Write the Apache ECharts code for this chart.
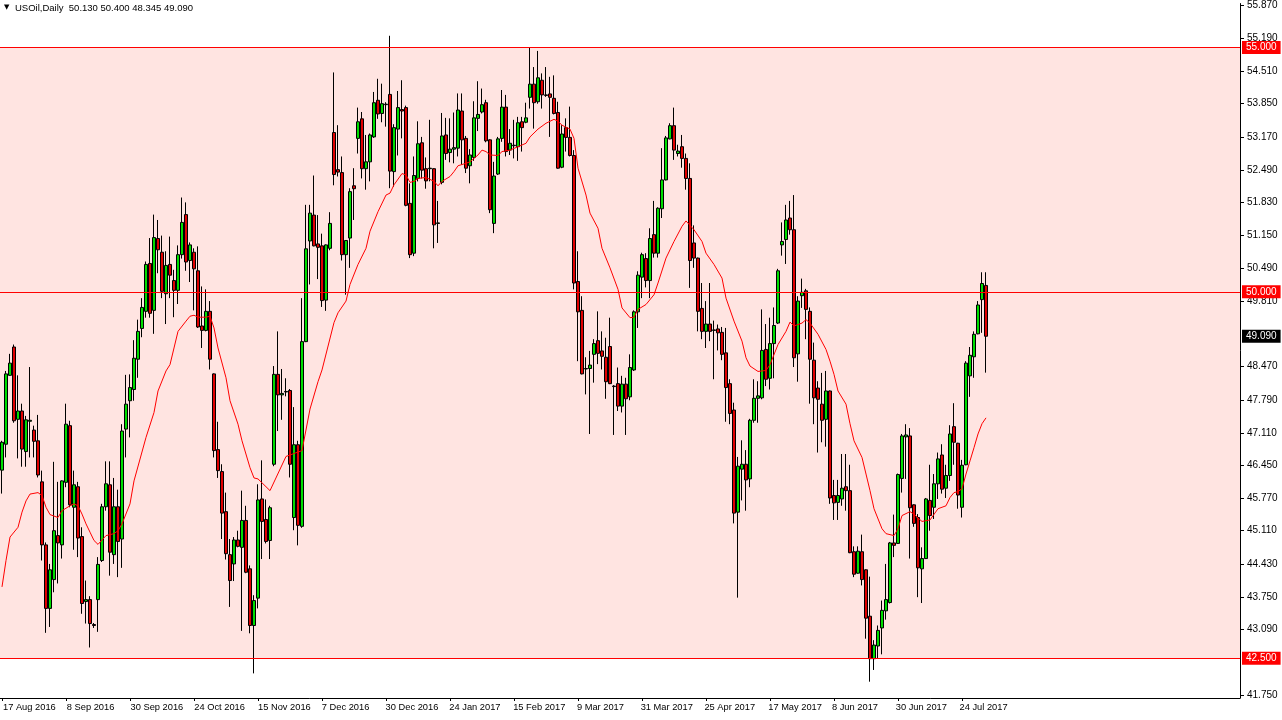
<!DOCTYPE html>
<html><head><meta charset="utf-8">
<script src="https://cdn.jsdelivr.net/npm/echarts@6/dist/echarts.min.js"></script>
<style>html,body{margin:0;padding:0;background:#fff}#c{width:1282px;height:720px}</style>
</head><body><div id="c"></div>
<script>
const symbolName = 'USOil,Daily';
const opens = [46.35,46.88,48.29,48.87,47.39,47.56,46.73,47.35,47.17,46.95,
46.11,44.82,43.52,44.11,45.01,44.82,46.10,47.26,45.59,46.01,
44.99,43.66,43.70,43.19,43.70,44.50,45.60,46.05,44.62,45.60,
44.94,47.19,47.77,48.00,48.62,49.25,49.60,50.58,49.62,51.09,
50.81,49.96,50.56,50.23,50.03,50.76,51.58,50.64,50.81,50.43,
49.30,49.21,49.60,48.32,46.77,46.32,45.50,44.62,44.43,44.92,
44.77,45.32,44.33,43.17,43.73,45.76,45.34,44.91,46.47,48.31,
47.89,47.95,47.98,45.38,46.87,45.20,48.98,51.04,51.57,50.98,
50.94,49.83,50.89,53.26,52.50,52.44,50.76,51.10,52.17,53.14,
53.54,52.52,52.66,53.17,53.92,53.65,53.84,54.04,52.46,53.33,
53.73,53.77,51.81,50.79,52.32,53.05,52.52,52.52,52.52,51.40,
52.24,53.21,52.85,52.92,52.94,53.70,53.14,52.58,52.75,53.55,
53.68,53.87,53.11,51.40,52.41,53.14,53.78,52.90,53.00,52.97,
53.48,53.47,53.98,54.25,53.89,54.33,54.03,54.05,53.96,53.67,
52.55,53.36,53.16,52.79,50.21,49.62,48.42,48.43,48.72,49.00,
48.79,48.66,48.88,48.07,48.12,47.66,48.11,47.85,48.40,49.59,
50.30,50.68,50.23,51.17,50.79,51.70,52.29,53.13,53.40,52.83,
52.97,52.73,52.32,51.00,50.69,49.66,49.19,49.34,49.21,49.24,
49.17,48.75,48.12,47.58,45.49,46.37,46.47,46.17,47.37,47.82,
47.83,48.82,48.23,48.94,49.36,50.96,51.07,51.51,51.27,48.73,
49.92,50.02,49.60,48.60,48.03,47.70,47.39,47.97,45.83,45.69,
45.76,46.01,45.93,44.68,44.24,44.68,44.31,43.36,42.49,42.75,
43.12,43.47,43.64,44.86,44.85,46.18,47.03,47.05,45.64,45.38,
44.33,44.54,45.73,45.59,46.07,46.66,45.98,46.24,47.24,46.90,
45.59,46.46,48.28,48.67,49.14,49.84,50.130];
const highs = [46.95,48.38,48.73,48.92,48.29,47.71,47.46,48.46,47.26,47.48,
46.34,44.87,44.43,46.52,46.11,46.14,47.71,47.36,46.34,46.11,
45.18,44.09,43.77,43.22,44.57,45.66,46.53,46.53,46.19,45.95,
47.29,48.30,48.31,49.01,49.43,49.87,50.62,51.10,51.58,51.47,
51.15,50.83,51.13,50.45,50.95,51.93,51.83,51.01,50.89,50.93,
50.11,50.05,49.81,48.33,47.34,46.47,45.89,44.94,44.98,45.11,
45.93,45.62,44.40,43.79,46.06,46.55,45.75,45.62,48.48,49.19,
48.42,48.23,48.01,47.64,46.95,49.87,51.78,51.78,52.38,51.57,
51.19,50.97,51.63,54.49,53.41,52.77,51.06,52.12,52.53,53.77,
53.68,53.21,53.24,54.09,54.36,54.26,53.88,55.24,53.43,54.11,
54.33,53.81,52.22,52.77,53.49,53.17,52.75,53.52,52.53,51.86,
53.66,53.56,53.55,53.67,54.06,54.06,53.19,52.92,53.90,54.31,
54.16,53.93,53.12,52.66,53.17,54.13,54.03,53.33,53.52,53.58,
53.58,53.87,55.01,54.60,54.93,54.47,54.60,54.40,54.43,53.89,
53.41,53.55,53.79,52.90,50.83,49.91,48.66,48.79,49.03,49.60,
49.19,49.06,49.47,48.09,48.45,48.28,48.24,48.72,49.62,50.42,
50.80,50.79,51.30,51.86,51.73,52.94,53.19,53.45,53.77,53.01,
53.21,52.83,52.63,51.36,50.70,50.18,49.81,50.18,49.41,49.33,
49.28,49.26,48.21,47.73,46.62,46.96,46.76,47.40,48.21,48.17,
49.64,49.34,49.47,49.68,50.47,51.42,51.78,51.86,51.98,49.91,
50.27,50.06,49.68,48.96,48.17,48.34,48.38,47.98,46.15,46.15,
46.68,46.68,46.46,44.79,44.79,45.03,44.32,44.17,42.87,43.17,
43.68,44.43,44.88,45.44,46.28,47.09,47.29,47.21,45.65,45.45,
44.77,45.78,46.46,46.27,46.71,46.88,46.46,47.27,47.72,46.91,
46.56,48.58,48.87,49.19,49.81,50.40,50.400];
const lows = [45.87,46.61,48.28,47.32,46.59,46.42,46.42,46.61,46.61,46.20,
44.50,43.02,43.14,43.85,44.03,44.54,46.00,45.59,44.72,44.57,
43.41,43.21,42.72,43.12,43.04,44.47,45.52,44.19,44.43,44.16,
44.35,46.61,47.02,47.77,48.24,49.07,49.47,49.47,49.14,50.38,
49.87,49.34,49.87,49.48,49.75,50.68,50.43,50.20,49.62,49.26,
48.85,49.19,48.41,46.61,46.19,44.94,44.52,43.55,44.08,44.77,
43.06,44.24,43.01,42.19,43.52,44.53,44.85,44.53,46.43,47.15,
47.38,47.86,46.20,45.12,44.81,45.17,48.97,50.15,50.93,50.26,
49.69,49.61,50.85,52.18,52.36,50.64,49.94,50.49,51.47,52.83,
52.32,52.09,52.26,53.15,53.54,53.47,53.38,52.12,52.15,52.79,
53.14,51.75,50.69,50.73,52.26,52.32,52.11,52.26,50.89,51.00,
52.20,52.70,52.65,52.63,52.77,52.60,52.43,52.22,52.68,53.29,
53.65,53.06,51.61,51.20,52.39,53.07,52.77,52.80,52.73,52.68,
52.87,53.45,53.75,53.34,53.85,53.75,53.99,53.17,53.63,52.52,
52.53,52.87,52.77,50.05,48.58,48.31,47.90,47.09,48.14,48.52,
48.41,47.81,48.11,47.07,47.56,47.53,47.07,47.78,48.38,49.26,
49.87,50.09,49.87,50.70,50.70,51.51,52.28,53.12,52.70,52.77,
52.54,52.09,50.08,50.49,49.19,49.03,48.85,48.99,48.21,48.80,
48.60,47.34,47.29,45.26,43.74,45.73,45.52,46.00,47.32,47.32,
47.80,48.07,48.00,48.23,49.34,50.74,50.57,51.17,48.46,48.16,
49.67,49.03,47.71,47.29,46.71,46.92,46.83,45.66,45.33,45.33,
45.62,45.52,44.65,44.16,44.23,43.99,42.90,42.02,42.26,42.49,
42.58,43.29,43.62,44.57,44.84,45.89,46.17,44.54,45.19,43.75,
43.63,44.53,45.11,45.35,45.76,45.87,45.78,46.13,46.46,45.56,
45.38,46.45,47.85,48.24,49.13,49.16,48.345];
const closes = [46.92,48.32,48.54,47.36,47.56,46.78,47.38,47.37,46.94,46.25,
44.82,43.52,44.31,45.11,44.86,46.13,47.29,45.64,46.05,44.96,
43.62,43.70,43.21,43.17,44.42,45.60,46.07,44.67,45.60,44.89,
47.15,47.70,48.04,48.64,49.19,49.68,50.56,49.56,51.11,50.86,
50.01,50.54,50.34,50.03,50.76,51.42,50.61,50.96,50.47,49.28,
49.21,49.60,48.62,46.75,46.34,45.47,44.64,44.09,44.92,44.79,
45.32,44.26,43.17,43.68,45.74,45.30,44.89,45.58,48.31,47.89,
47.92,47.96,46.47,46.87,45.22,48.98,50.88,51.61,50.94,50.91,
49.82,50.96,51.40,52.40,52.45,50.76,51.05,52.05,52.11,53.48,
52.52,52.66,53.21,53.87,53.64,53.85,53.83,52.47,53.36,53.77,
53.70,51.77,50.76,52.38,53.03,52.49,52.27,52.53,51.37,51.41,
53.19,52.83,52.92,52.95,53.72,53.11,52.53,52.80,53.56,53.63,
53.83,53.09,51.68,52.37,53.13,53.78,52.87,53.04,52.99,53.46,
53.36,53.56,54.25,53.87,54.38,54.03,54.02,53.98,53.65,52.53,
53.23,53.16,52.79,50.18,49.59,48.32,48.43,48.50,48.94,48.74,
48.68,48.16,48.12,48.06,47.66,48.11,47.81,48.45,49.59,50.34,
50.76,50.23,51.09,50.79,51.71,52.29,53.15,53.40,52.90,52.88,
52.73,52.32,50.64,50.69,49.60,49.19,49.34,49.19,49.22,49.16,
48.72,48.04,47.51,45.47,46.43,46.47,46.15,47.37,47.82,47.87,
48.80,48.21,48.94,49.31,50.43,51.03,51.47,51.27,48.65,49.81,
49.99,49.64,48.62,47.83,47.80,47.37,47.97,45.78,45.68,45.83,
45.98,45.93,44.66,44.22,44.69,44.11,43.32,42.49,42.77,43.07,
43.48,43.70,44.86,44.81,46.26,47.05,47.07,45.58,45.26,44.35,
44.54,45.76,45.42,46.07,46.58,45.96,46.24,47.09,46.92,45.84,
46.45,48.54,48.70,49.13,49.73,50.17,49.090];
// moving average: bar index -> value
const maBars = [0,1,2,4,5,6,7,9,10,11,12,14,15,17,18,19,20,21,22,23,24,26,28,29,30,32,33,36,38,39,41,42,43,44,46,47,48,49,51,52,53,54,56,57,59,60,62,63,64,67,71,75,77,79,80,83,84,86,87,89,91,92,94,96,97,98,100,101,102,103,104,106,108,109,110,112,113,114,116,117,119,120,121,122,124,125,127,129,131,132,134,136,138,139,140,142,143,144,146,147,149,150,152,154,155,157,158,159,161,163,164,166,168,170,171,173,175,176,178,180,181,183,185,186,187,189,191,192,194,196,197,198,200,201,202,204,206,207,208,209,211,212,213,215,216,217,218,220,221,223,224,225,227,228,229,230,232,234,236,237,238,239,240,241,242,243,244,245,246];
const maValues = [43.96,44.50,44.98,45.18,45.49,45.72,45.86,45.89,45.83,45.59,45.44,45.38,45.52,45.62,45.66,45.62,45.45,45.25,45.08,44.91,44.83,45.01,45.05,45.11,45.25,45.66,46.13,47.02,47.53,47.97,48.38,48.51,48.85,49.19,49.40,49.50,49.52,49.48,49.48,49.50,49.26,48.85,48.24,47.77,47.29,46.95,46.40,46.19,46.17,45.93,46.63,46.75,47.60,48.16,48.40,49.37,49.57,49.81,50.15,50.56,50.89,51.24,51.64,51.98,52.02,52.19,52.42,52.39,52.24,52.26,52.32,52.34,52.26,52.17,52.26,52.36,52.46,52.58,52.63,52.66,52.80,52.90,52.87,52.80,52.79,52.87,52.90,52.97,53.04,53.17,53.33,53.45,53.53,53.49,53.41,53.33,53.14,52.53,51.98,51.61,51.30,50.89,50.49,50.05,49.67,49.47,49.48,49.64,49.74,49.94,50.18,50.69,51.03,51.34,51.45,51.27,51.03,50.79,50.56,50.28,49.87,49.40,48.99,48.65,48.48,48.37,48.39,48.51,48.92,49.19,49.38,49.30,49.36,49.43,49.36,49.13,48.82,48.58,48.31,47.97,47.70,47.30,46.95,46.61,46.27,45.93,45.56,45.15,45.05,45.01,45.15,45.42,45.50,45.45,45.37,45.30,45.33,45.56,45.62,45.79,45.89,45.91,45.97,46.27,46.54,46.81,47.09,47.30,47.42];
const priceTicks = [55.870,55.190,54.510,53.850,53.170,52.490,51.830,51.150,50.490,49.810,48.470,47.790,47.110,46.450,45.770,45.110,44.430,43.750,43.090,41.750];
const dateTicks = ['17 Aug 2016','8 Sep 2016','30 Sep 2016','24 Oct 2016','15 Nov 2016','7 Dec 2016','30 Dec 2016','24 Jan 2017','15 Feb 2017','9 Mar 2017','31 Mar 2017','25 Apr 2017','17 May 2017','8 Jun 2017','30 Jun 2017','24 Jul 2017'];
const dateTickEvery = 16;
const levels = [55.0, 50.0, 42.5];
const zone = [42.5, 55.0];

const slotCount = 310;
const slots = Array.from({length: slotCount}, (_, i) => String(i));
const candles = opens.map((o, i) => [o, closes[i], lows[i], highs[i]]);
const maData = maBars.map((b, k) => [b, maValues[k]]);
const last = opens.length - 1;
const font = 'Liberation Sans, Arial, sans-serif';
const showTick = (i) => i % dateTickEvery === 0 && i / dateTickEvery < dateTicks.length;

const chart = echarts.init(document.getElementById('c'), null, {renderer: 'canvas'});
chart.setOption({
  animation: false,
  backgroundColor: '#ffffff',
  textStyle: {fontFamily: font},
  grid: [
    {left: -1.5, top: 0, width: 1241.5, height: 698, containLabel: false},
    {left: -5, top: 0, width: 1241.5, height: 698, containLabel: false}
  ],
  graphic: [
    {type: 'text', left: 4, top: 4, style: {text: '▼', fill: '#000', font: '7px DejaVu Sans'}},
    {type: 'text', left: 15, top: 3, style: {
      text: symbolName + '  ' + [opens[last], highs[last], lows[last], closes[last]].map(v => v.toFixed(3)).join(' '),
      fill: '#000', font: '9.5px ' + font}}
  ],
  xAxis: [{
    type: 'category', data: slots, boundaryGap: true, gridIndex: 0,
    axisLine: {show: true, lineStyle: {color: '#000', width: 1}},
    axisTick: {show: true, alignWithLabel: true, interval: showTick, length: 3, lineStyle: {color: '#000'}},
    axisLabel: {show: false},
    splitLine: {show: false}
  }, {
    type: 'category', data: slots, boundaryGap: true, gridIndex: 1,
    axisLine: {show: false}, axisTick: {show: false},
    axisLabel: {interval: showTick, formatter: (v, i) => dateTicks[i / dateTickEvery] || '',
      align: 'left', margin: 5, color: '#000', fontSize: 9.3, fontFamily: font},
    splitLine: {show: false}
  }],
  yAxis: [{
    type: 'value', position: 'right', scale: true, min: 41.686, max: 55.9, gridIndex: 0,
    axisLine: {show: true, onZero: false, lineStyle: {color: '#000', width: 1}},
    axisTick: {show: true, customValues: priceTicks, length: 4, lineStyle: {color: '#000'}},
    axisLabel: {customValues: priceTicks, formatter: v => Number(v).toFixed(3), color: '#000',
      fontSize: 10, fontFamily: font, margin: 7},
    splitLine: {show: false}
  }, {
    type: 'value', gridIndex: 1, min: 0, max: 1, show: false
  }],
  series: [
    {
      type: 'candlestick', data: candles, barWidth: 3, z: 3, xAxisIndex: 0, yAxisIndex: 0,
      itemStyle: {color: '#00dd00', color0: '#e00000', borderColor: '#000', borderColor0: '#000', borderColorDoji: '#000', borderWidth: 1},
      markArea: {silent: true, z: 1, itemStyle: {color: '#ffe4e1'},
        data: [[{yAxis: zone[0]}, {yAxis: zone[1]}]]},
      markLine: {silent: true, symbol: ['none', 'none'], z: 6,
        lineStyle: {color: '#ff0000', width: 1, type: 'solid'},
        label: {show: true, position: 'end', distance: 2, formatter: p => Number(p.value).toFixed(3),
          color: '#fff', backgroundColor: '#ff0000', padding: [2, 4, 1, 4], fontSize: 10, fontFamily: font},
        data: levels.map(v => ({yAxis: v})).concat([{
          yAxis: closes[last], lineStyle: {color: 'rgba(0,0,0,0)'},
          label: {backgroundColor: '#000', color: '#fff'}
        }])
      }
    },
    {
      type: 'line', data: maData, showSymbol: false, symbol: 'none', z: 4, silent: true,
      xAxisIndex: 0, yAxisIndex: 0,
      lineStyle: {color: '#ff0000', width: 1}
    }
  ]
});
</script></body></html>
